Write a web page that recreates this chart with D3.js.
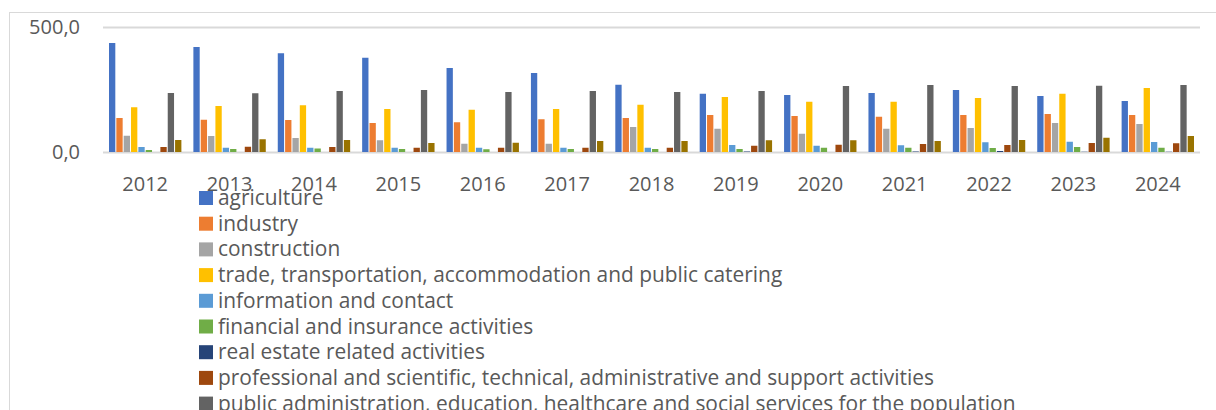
<!DOCTYPE html>
<html>
<head>
<meta charset="utf-8">
<script src="https://cdn.jsdelivr.net/npm/d3@7"></script>
<style>
  body { margin: 0; background: #fff; }
  text { font-family: "Open Sans", sans-serif; fill: #595959; }
</style>
</head>
<body>
<div id="chart-container"></div>
<script>
// categories
const years = ["2012", "2013", "2014", "2015", "2016", "2017", "2018", "2019", "2020", "2021", "2022", "2023", "2024"];

const seriesNames = [
  "agriculture",
  "industry",
  "construction",
  "trade, transportation, accommodation and public catering",
  "information and contact",
  "financial and insurance activities",
  "real estate related activities",
  "professional and scientific, technical, administrative and support activities",
  "public administration, education, healthcare and social services for the population",
  "other service activities"
];

const colors = ["#4472C4", "#ED7D31", "#A5A5A5", "#FFC000", "#5B9BD5", "#70AD47", "#264478", "#9E480E", "#636363", "#997300"];

// series values, one per year
const agriculture  = [436, 420, 395, 377, 336, 316, 269, 233, 228, 236, 248, 224, 204];
const industry     = [136, 129, 128, 116, 119, 131, 136, 148, 144, 141, 148, 152, 148];
const construction = [65, 64, 56, 47, 33, 33, 100, 93, 73, 93, 96, 116, 112];
const trade        = [179, 184, 187, 172, 169, 172, 189, 220, 201, 201, 216, 233, 256];
const information  = [20, 17, 17, 17, 17, 17, 17, 28, 25, 27, 39, 41, 40];
const financial    = [8, 12, 14, 12, 11, 12, 12, 12, 17, 17, 16, 20, 17];
const realEstate   = [0, 0, 0, 0, 0, 0, 0, 2, 0, 2, 4, 1, 1];
const professional = [20, 21, 20, 17, 17, 17, 17, 25, 29, 32, 28, 36, 35];
const publicAdmin  = [236, 235, 244, 248, 240, 244, 240, 244, 264, 268, 264, 265, 268];
const otherServices = [48, 51, 48, 36, 37, 44, 44, 47, 47, 44, 48, 57, 64];

const seriesValues = [agriculture, industry, construction, trade, information, financial, realEstate, professional, publicAdmin, otherServices];

// y axis ticks
const yTicks = [0, 500];
const tickLabels = ["0,0", "500,0"];

const W = 1216, H = 410;
const plot = { left: 103, right: 1200, top: 27, bottom: 152 };

const svg = d3.select("#chart-container")
  .append("svg")
    .attr("width", W)
    .attr("height", H);

// chart area border
svg.append("rect")
  .attr("x", 9.5).attr("y", 12.5)
  .attr("width", W + 20).attr("height", H + 20)
  .attr("fill", "none")
  .attr("stroke", "#d9d9d9")
  .attr("stroke-width", 1);

const x0 = d3.scaleBand()
  .domain(years)
  .range([plot.left, plot.right]);

const x1 = d3.scaleBand()
  .domain(d3.range(seriesNames.length))
  .range([6, x0.bandwidth() - 6])
  .paddingInner(0.14);

const y = d3.scaleLinear()
  .domain([0, 500])
  .range([plot.bottom, plot.top]);

// gridlines
svg.append("g")
  .selectAll("line")
  .data(yTicks)
  .join("line")
    .attr("x1", plot.left)
    .attr("x2", plot.right)
    .attr("y1", d => Math.round(y(d)) + 0.5)
    .attr("y2", d => Math.round(y(d)) + 0.5)
    .attr("stroke", "#d9d9d9")
    .attr("stroke-width", 2);

// tick labels
svg.append("g")
  .selectAll("text")
  .data(yTicks)
  .join("text")
    .attr("x", 80)
    .attr("y", d => y(d) + 7)
    .attr("text-anchor", "end")
    .attr("font-size", 20)
    .text((d, i) => tickLabels[i]);

// bars
const groups = svg.append("g")
  .selectAll("g")
  .data(years)
  .join("g")
    .attr("transform", d => `translate(${x0(d)},0)`);

groups.selectAll("rect")
  .data((d, i) => seriesValues.map((vals, s) => ({ s, v: vals[i] })))
  .join("rect")
    .attr("x", d => x1(d.s))
    .attr("width", x1.bandwidth())
    .attr("y", d => y(d.v))
    .attr("height", d => y(0) - y(d.v))
    .attr("fill", d => colors[d.s]);

// category labels
svg.append("g")
  .selectAll("text")
  .data(years)
  .join("text")
    .attr("x", d => x0(d) + x0.bandwidth() / 2)
    .attr("y", 191)
    .attr("text-anchor", "middle")
    .attr("font-size", 20)
    .text(d => d);

// legend
const legend = svg.append("g")
  .selectAll("g")
  .data(seriesNames)
  .join("g")
    .attr("transform", (d, i) => `translate(199,${205 + i * 25.7})`);

legend.append("rect")
  .attr("x", 0)
  .attr("y", -14)
  .attr("width", 14)
  .attr("height", 14)
  .attr("fill", (d, i) => colors[i]);

legend.append("text")
  .attr("x", 19)
  .attr("y", 0)
  .attr("font-size", 20.9)
  .text(d => d);
</script>
</body>
</html>
